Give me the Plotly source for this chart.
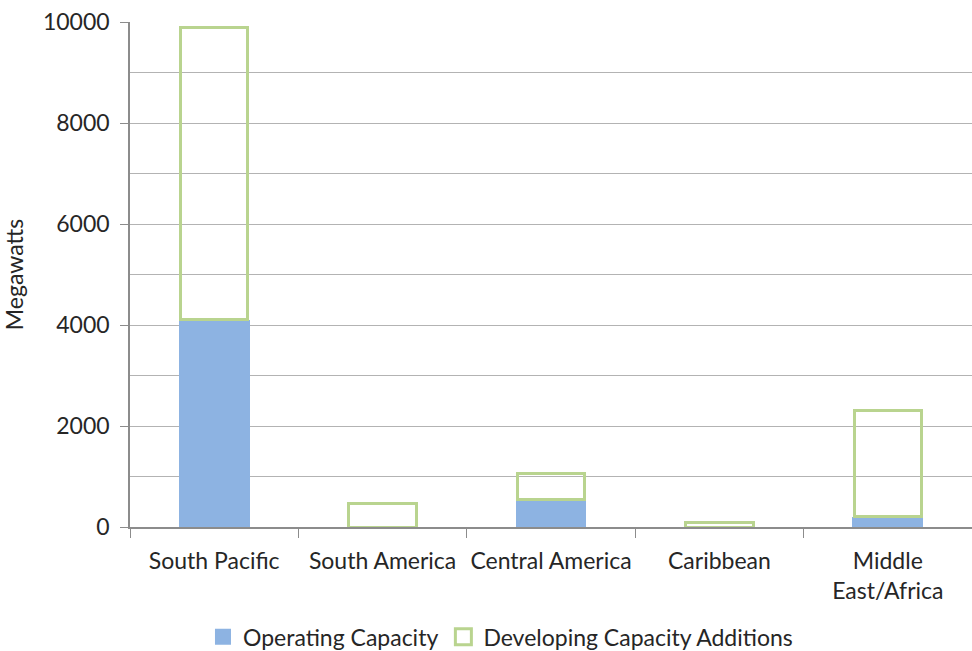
import plotly.graph_objects as go

categories = ["South Pacific", "South America", "Central America", "Caribbean", "Middle<br>East/Africa"]
operating = [4100, 0, 550, 0, 200]
developing = [5800, 470, 500, 80, 2100]
y_ticks = [0, 2000, 4000, 6000, 8000, 10000]

FONT = "Lato, 'Open Sans', sans-serif"
FS = 23
BLUE = "#8db3e2"
GREEN = "#b9d48f"

fig = go.Figure()
fig.add_trace(go.Bar(
    x=categories, y=operating, name="Operating Capacity",
    marker=dict(color=BLUE, line=dict(width=0)),
    width=0.42, showlegend=False,
))
fig.add_trace(go.Bar(
    x=categories, y=developing, name="Developing Capacity Additions",
    marker=dict(color="rgba(255,255,255,0)", line=dict(color=GREEN, width=3)),
    width=0.40, showlegend=False,
))
# legend entries
fig.add_trace(go.Scatter(
    x=[None], y=[None], mode="markers", name="Operating Capacity",
    marker=dict(symbol="square", size=17, color=BLUE),
))
fig.add_trace(go.Scatter(
    x=[None], y=[None], mode="markers", name="Developing Capacity Additions",
    marker=dict(symbol="square-open", size=16, color=GREEN, line=dict(width=3, color=GREEN)),
))

fig.update_layout(
    barmode="stack",
    width=972, height=651,
    margin=dict(l=130, r=0, t=22, b=124, autoexpand=False),
    paper_bgcolor="white", plot_bgcolor="white",
    font=dict(family=FONT, size=FS, color="#262626"),
    showlegend=True,
    legend=dict(orientation="h", x=0.44, xanchor="center", y=-0.175, yanchor="top",
                font=dict(size=FS), traceorder="normal", itemwidth=30),
    xaxis=dict(
        type="category", tickson="boundaries", ticks="outside", ticklen=9,
        tickcolor="#8c8c8c", showline=True, linecolor="#8c8c8c", linewidth=1.5,
        showgrid=False, range=[-0.5, 4.5], tickfont=dict(size=FS), tickangle=0,
        ticklabelstandoff=13, automargin=False,
    ),
    yaxis=dict(
        range=[0, 10000], tickvals=y_ticks, tickformat="d", ticks="outside", ticklen=8,
        tickcolor="#8c8c8c", showline=True, linecolor="#8c8c8c", linewidth=1.5,
        showgrid=True, gridcolor="#b3b3b3", gridwidth=1.2,
        minor=dict(dtick=1000, showgrid=True, gridcolor="#b3b3b3", gridwidth=1.2),
        zeroline=False, ticklabelstandoff=6, automargin=False,
        title=dict(text="Megawatts", font=dict(size=FS), standoff=14),
        tickfont=dict(size=FS),
    ),
)

fig.write_html("out.html")
